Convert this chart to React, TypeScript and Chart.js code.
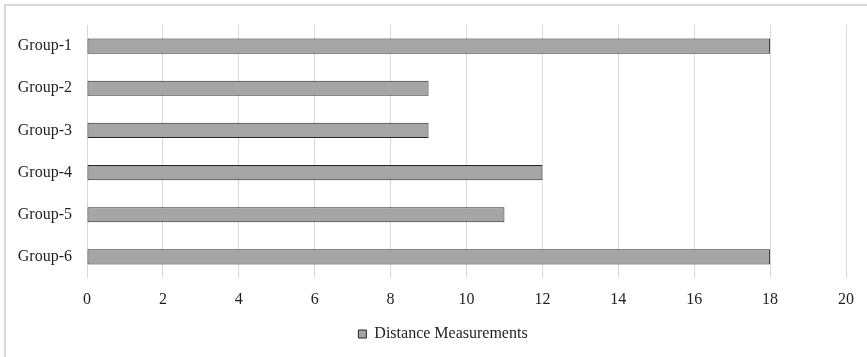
import React, { useEffect, useRef } from "react";
import { Chart, registerables } from "chart.js";

Chart.register(...registerables);

const categories = ["Group-1", "Group-2", "Group-3", "Group-4", "Group-5", "Group-6"];
const distanceValues = [18, 9, 9, 12, 11, 18];
const seriesLabel = "Distance Measurements";
const xMin = 0;
const xMax = 20;
const xStep = 2;

const FONT = "'Liberation Serif', 'Times New Roman', serif";
const TEXT = "#1f1f1f";

const borderPlugin = {
  id: "outerBorder",
  beforeDraw(chart: any) {
    const ctx = chart.ctx;
    ctx.save();
    ctx.fillStyle = "#ffffff";
    ctx.fillRect(0, 0, chart.width, chart.height);
    ctx.fillStyle = "#d9d9d9";
    ctx.fillRect(4, 4, chart.width, 2);
    ctx.fillRect(4, 4, 2, chart.height);
    ctx.restore();
  },
  afterLayout(chart: any) {
    if (chart.legend) {
      chart.legend.left += 40;
    }
  },
};

export default function App() {
  const ref = useRef<HTMLCanvasElement | null>(null);
  useEffect(() => {
    if (!ref.current) return;
    const chart = new Chart(ref.current, {
      type: "bar",
      data: {
        labels: categories,
        datasets: [
          {
            label: seriesLabel,
            data: distanceValues,
            backgroundColor: "#a5a5a5",
            borderColor: "#262626",
            borderWidth: 1,
            borderSkipped: false,
            categoryPercentage: 1,
            barPercentage: 0.36,
          },
        ],
      },
      options: {
        indexAxis: "y",
        responsive: false,
        animation: false,
        layout: { padding: { left: 0, top: 25, right: 21, bottom: 5 } },
        plugins: {
          tooltip: { enabled: false },
          legend: {
            position: "bottom",
            labels: {
              boxWidth: 8,
              boxHeight: 8,
              color: TEXT,
              font: { family: FONT, size: 16 },
              padding: 10,
            },
          },
        },
        scales: {
          x: {
            min: xMin,
            max: xMax,
            ticks: { stepSize: xStep, color: TEXT, font: { family: FONT, size: 16 }, padding: 12 },
            grid: { color: "#d9d9d9", drawTicks: false },
            border: { display: false },
            afterFit(scale: any) {
              scale.height = 38;
            },
          },
          y: {
            ticks: { color: TEXT, font: { family: FONT, size: 16 }, padding: 15 },
            grid: { display: false, drawTicks: false },
            border: { display: false },
            afterFit(scale: any) {
              scale.width = 87;
            },
          },
        },
      },
      plugins: [borderPlugin],
    });
    return () => chart.destroy();
  }, []);
  return (
    <div style={{ position: "fixed", left: 0, top: 0, width: 867, height: 357 }}>
      <canvas ref={ref} width={867} height={357} />
    </div>
  );
}
